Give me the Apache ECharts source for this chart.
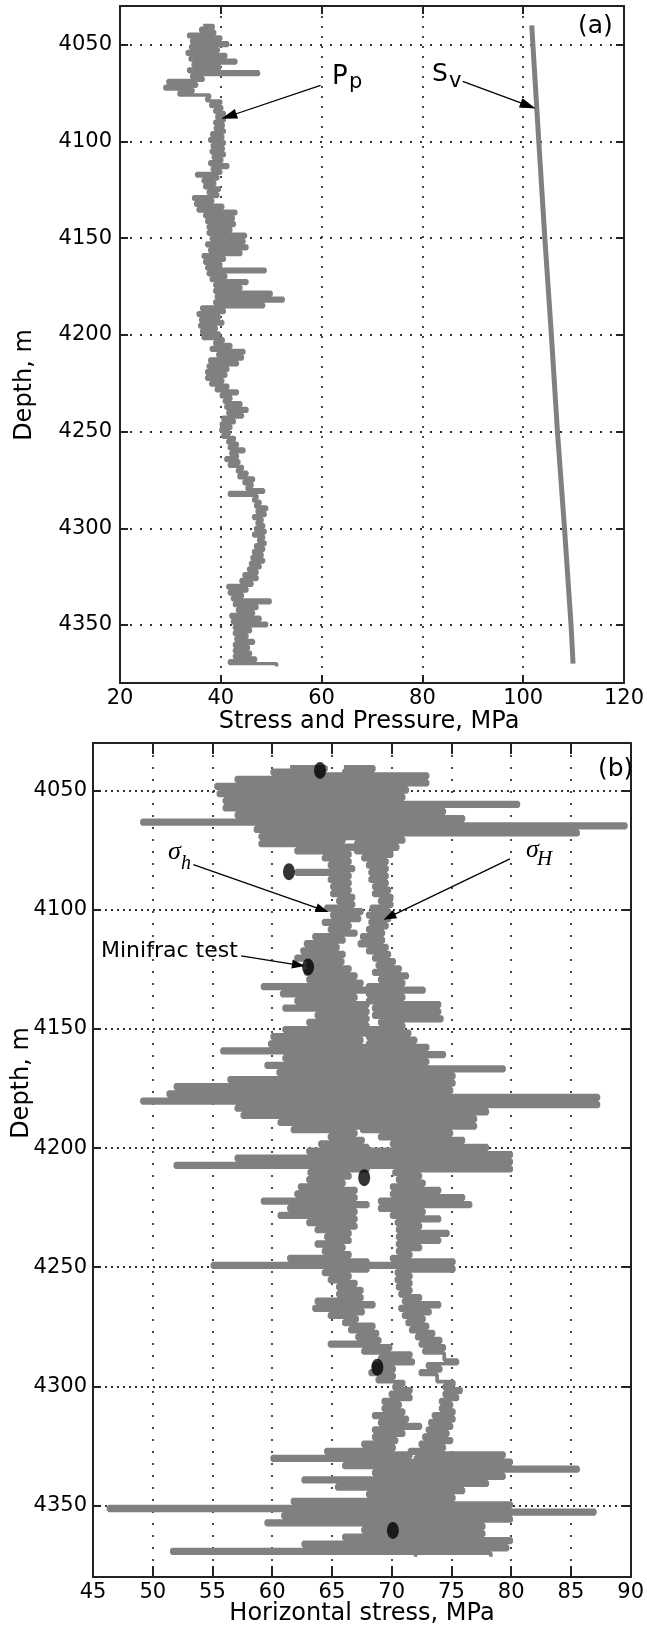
<!DOCTYPE html>
<html>
<head>
<meta charset="UTF-8">
<script src="https://cdn.jsdelivr.net/npm/echarts@6.0.0/dist/echarts.min.js"></script>
<title>Stress profiles</title>
<style>
  html, body { margin: 0; padding: 0; background: #fff; }
  #chart { width: 647px; height: 1629px; }
</style>
</head>
<body>
<div id="chart"></div>
<script>
// depth samples: every 3 m from 4040 to 4370, each log given as left/right edge of its band
var depthStart = 4040, depthStep = 3;
var depthTicks = [4050, 4100, 4150, 4200, 4250, 4300, 4350];

// (a) pore pressure Pp, MPa
var ppLow = [36.5, 36.0, 33.6, 34.2, 34.0, 33.3, 33.9, 34.5, 33.6, 34.2,
  29.5, 28.9, 31.7, 37.2, 38.0, 38.8, 39.2, 38.8, 38.9, 38.2,
  37.8, 38.3, 38.1, 38.5, 37.8, 38.3, 35.2, 36.5, 36.8, 37.5,
  34.6, 35.0, 35.5, 36.8, 37.2, 37.5, 37.5, 38.1, 37.2, 37.8,
  36.5, 36.8, 37.2, 37.5, 38.1, 38.8, 38.8, 39.1, 38.8, 36.2,
  35.5, 36.0, 35.8, 36.2, 36.5, 38.8, 38.1, 39.4, 37.8, 37.5,
  37.2, 37.2, 38.0, 39.1, 40.1, 40.7, 41.0, 41.4, 40.4, 40.1,
  40.0, 40.4, 41.4, 41.7, 42.0, 41.0, 41.7, 43.3, 43.6, 44.6,
  45.2, 41.7, 46.5, 46.9, 47.2, 46.5, 47.2, 46.9, 46.5, 47.5,
  46.9, 46.5, 46.2, 45.9, 45.5, 44.6, 44.0, 41.4, 41.7, 42.3,
  42.7, 43.3, 42.0, 42.3, 42.7, 42.7, 43.0, 42.7, 42.7, 42.7,
  41.7];
var ppHigh = [38.5, 38.8, 40.0, 41.4, 39.5, 41.0, 43.0, 39.8, 47.5, 36.5,
  35.2, 34.5, 37.8, 40.0, 40.2, 40.7, 40.7, 40.5, 40.7, 40.4,
  40.7, 40.5, 40.7, 40.2, 41.4, 40.0, 39.4, 38.8, 39.7, 39.4,
  38.4, 40.4, 43.0, 42.5, 42.7, 42.0, 44.9, 44.6, 45.2, 44.0,
  40.7, 40.0, 48.8, 41.0, 45.2, 44.0, 50.0, 52.4, 48.5, 40.7,
  39.7, 40.4, 39.1, 39.7, 40.5, 42.0, 44.6, 44.3, 43.3, 41.4,
  41.0, 40.4, 41.4, 43.3, 42.0, 44.0, 45.2, 44.3, 42.7, 42.0,
  41.7, 42.7, 43.3, 44.6, 43.3, 43.6, 44.3, 45.2, 46.5, 46.2,
  48.5, 47.2, 47.8, 49.1, 48.8, 48.2, 48.5, 48.8, 48.5, 48.8,
  48.5, 48.2, 48.5, 47.8, 47.2, 47.2, 46.2, 45.2, 44.3, 49.8,
  47.2, 46.5, 47.8, 49.1, 45.9, 45.2, 46.5, 45.5, 45.9, 46.9,
  51.1];

// (a) overburden Sv
var svDepth = [4040, 4100, 4150, 4200, 4250, 4300, 4350, 4370];
var svValue = [101.7, 103.1, 104.3, 105.6, 106.8, 108.2, 109.5, 109.9];

// (b) minimum horizontal stress sigma_h
var shLow = [61.5, 60.0, 57.0, 55.3, 55.5, 56.0, 56.0, 57.0, 49.1, 58.6,
  59.0, 59.0, 62.0, 64.3, 64.8, 62.0, 64.8, 65.0, 65.0, 65.5,
  64.5, 65.0, 64.3, 64.8, 63.5, 62.8, 62.5, 62.0, 63.0, 62.8,
  63.0, 59.2, 60.8, 62.0, 61.0, 63.7, 63.0, 61.0, 60.0, 59.8,
  55.8, 61.0, 59.5, 60.5, 56.4, 51.9, 51.3, 49.1, 57.0, 57.5,
  60.6, 61.7, 64.8, 64.0, 63.0, 57.0, 51.9, 63.1, 63.0, 62.3,
  62.0, 59.2, 61.4, 60.6, 63.0, 63.7, 64.5, 63.7, 64.3, 61.4,
  55.0, 64.3, 64.8, 65.5, 65.5, 63.7, 63.5, 64.8, 66.0, 66.5,
  67.1, 64.8, 67.6, 69.0, 68.5, 68.2, 68.8, 70.2, 69.9, 69.3,
  69.3, 68.5, 69.0, 68.5, 68.5, 67.6, 64.5, 60.0, 66.0, 68.5,
  62.6, 65.4, 68.0, 61.7, 46.3, 60.9, 59.5, 67.6, 66.0, 62.6,
  51.6];
var shHigh = [64.5, 66.0, 66.0, 67.0, 68.0, 67.0, 67.0, 67.0, 67.0, 67.0,
  66.0, 67.0, 66.5, 66.5, 66.8, 66.5, 66.5, 66.5, 66.8, 66.8,
  67.5, 67.3, 66.5, 67.0, 66.0, 65.5, 66.0, 65.9, 66.5, 67.0,
  67.5, 68.0, 67.0, 68.0, 68.0, 68.0, 68.0, 68.0, 67.5, 68.0,
  68.0, 68.0, 68.0, 68.0, 68.0, 68.0, 68.0, 68.0, 68.0, 68.0,
  68.0, 67.0, 67.6, 68.0, 68.0, 68.0, 68.0, 66.5, 66.0, 67.0,
  67.0, 68.0, 67.0, 67.0, 67.0, 66.5, 66.5, 66.0, 66.5, 68.0,
  68.0, 66.5, 67.0, 67.5, 67.5, 68.5, 67.6, 67.1, 68.5, 68.8,
  69.0, 69.9, 71.6, 71.8, 70.2, 70.2, 71.0, 71.6, 71.6, 70.7,
  71.0, 71.3, 72.4, 71.0, 70.4, 70.2, 71.6, 72.0, 72.0, 72.0,
  72.0, 72.0, 72.0, 72.0, 72.0, 72.0, 72.0, 72.0, 72.0, 72.0,
  72.0];

// (b) maximum horizontal stress sigma_H
var sHLow = [66.0, 66.0, 64.0, 64.0, 63.0, 64.0, 64.0, 64.0, 64.0, 65.0,
  66.0, 67.0, 67.0, 67.6, 68.0, 68.2, 68.2, 68.5, 68.5, 69.0,
  68.3, 68.0, 68.2, 68.0, 67.5, 67.3, 68.0, 68.5, 68.8, 68.5,
  69.0, 68.0, 68.0, 68.0, 68.5, 68.5, 69.0, 68.0, 68.0, 68.0,
  68.0, 68.0, 68.0, 68.0, 68.0, 68.0, 68.0, 68.0, 68.0, 68.0,
  68.0, 67.5, 69.0, 70.0, 68.0, 68.0, 68.0, 70.2, 70.5, 70.0,
  70.0, 69.0, 69.0, 70.0, 70.4, 70.5, 70.5, 70.5, 70.5, 70.0,
  68.0, 70.4, 70.4, 70.5, 70.7, 71.0, 70.7, 71.0, 71.3, 71.6,
  72.1, 72.4, 72.7, 74.4, 73.0, 72.4, 73.8, 74.4, 74.4, 74.1,
  74.1, 73.5, 73.2, 73.0, 72.7, 72.4, 71.5, 72.0, 72.0, 72.0,
  72.0, 72.0, 72.0, 72.0, 72.0, 72.0, 72.0, 72.0, 72.0, 72.0,
  72.0];
var sHHigh = [68.5, 73.0, 73.0, 71.3, 71.0, 80.6, 74.4, 76.0, 89.6, 85.6,
  71.0, 70.5, 70.0, 69.6, 69.6, 69.6, 69.6, 69.8, 70.0, 70.0,
  69.8, 69.8, 69.6, 69.3, 69.3, 69.6, 69.8, 70.2, 70.7, 71.3,
  71.0, 72.7, 71.0, 74.0, 74.0, 74.2, 71.0, 71.5, 72.0, 73.0,
  74.4, 73.0, 79.4, 75.2, 75.2, 75.0, 87.3, 87.3, 78.0, 77.0,
  77.0, 75.0, 76.0, 78.0, 80.0, 80.0, 80.0, 72.4, 72.7, 74.0,
  76.0, 76.6, 72.7, 74.0, 72.4, 74.7, 74.0, 72.4, 71.6, 75.2,
  75.2, 71.6, 71.6, 71.6, 72.4, 74.0, 73.2, 72.7, 73.0, 73.5,
  74.1, 74.4, 74.4, 75.5, 74.1, 73.8, 75.2, 75.8, 75.5, 75.0,
  75.2, 75.2, 75.0, 74.7, 75.0, 74.4, 79.4, 80.0, 85.6, 79.4,
  78.0, 76.0, 75.2, 80.0, 87.0, 80.0, 77.7, 77.7, 80.0, 79.7,
  78.3];

// (b) minifrac tests
var testValue = [64.0, 61.4, 63.0, 67.7, 68.8, 70.1];
var testDepth = [4041.5, 4084, 4124, 4212.4, 4292, 4360.5];

// band -> zigzag path: left edge at the sample depth, right edge half a step lower
function zig(lo, hi) {
  var out = [];
  for (var i = 0; i < lo.length; i++) {
    var d = depthStart + i * depthStep;
    out.push([lo[i], d]);
    out.push([hi[i], d + depthStep / 2]);
  }
  return out;
}
function pairs(xs, ys) {
  return xs.map(function (x, i) { return [x, ys[i]]; });
}

var FONT = 'DejaVu Sans';
var GRAY = '#808080';
var frame = { show: true, onZero: false, lineStyle: { color: '#222', width: 2 } };

function xAx(grid, pos, min, max, step, tickLen, dash) {
  var main = pos === 'bottom';
  return {
    gridIndex: grid, type: 'value', position: pos, min: min, max: max, interval: step,
    axisLine: frame,
    axisTick: { show: true, inside: true, length: tickLen, lineStyle: { color: '#222', width: 2 } },
    axisLabel: { show: main, margin: 5, fontSize: 21, fontFamily: FONT, color: '#000' },
    splitLine: { show: main, lineStyle: { color: '#333', width: 1.8, type: dash } }
  };
}
function yAx(grid, pos, tickLen, margin, dash) {
  var main = pos === 'left';
  return {
    gridIndex: grid, type: 'value', position: pos, inverse: true, min: 4030, max: 4380,
    splitNumber: 7,
    axisLine: frame,
    axisTick: { show: true, inside: true, length: tickLen, customValues: depthTicks,
      lineStyle: { color: '#222', width: 2 } },
    axisLabel: { show: main, customValues: depthTicks, margin: margin, fontSize: 21, fontFamily: FONT,
      color: '#000', formatter: function (v) { return String(v); } },
    splitLine: { show: main, lineStyle: { color: '#333', width: 1.8, type: dash } }
  };
}

function txt(x, y, s, size, opts) {
  opts = opts || {};
  return {
    type: 'text', x: x, y: y, z: 100, rotation: opts.rot || 0,
    style: {
      text: s, fill: '#000', fontSize: size, fontFamily: opts.family || FONT,
      fontStyle: opts.italic ? 'italic' : 'normal',
      textAlign: opts.align || 'left', textVerticalAlign: 'middle'
    }
  };
}

var arrowStyle = { color: '#000', width: 1.3, type: 'solid' };

var chart = echarts.init(document.getElementById('chart'), null, { renderer: 'canvas' });
chart.setOption({
  animation: false,
  textStyle: { fontFamily: FONT },
  grid: [
    { left: 120, top: 6, width: 515, height: 677 },
    { left: 93, top: 743, width: 551, height: 834 }
  ],
  xAxis: [
    xAx(0, 'bottom', 20, 120, 20, 8, [2, 8]),
    xAx(0, 'top', 20, 120, 20, 8, [2, 8]),
    xAx(1, 'bottom', 45, 90, 5, 11, [2, 10]),
    xAx(1, 'top', 45, 90, 5, 11, [2, 10])
  ],
  yAxis: [
    yAx(0, 'left', 8, 8, [2, 8]),
    yAx(0, 'right', 8, 8, [2, 8]),
    yAx(1, 'left', 8, 6, [2, 4]),
    yAx(1, 'right', 8, 6, [2, 4])
  ],
  series: [
    {
      name: 'Pp', type: 'line', xAxisIndex: 0, yAxisIndex: 0, data: zig(ppLow, ppHigh),
      step: 'end', showSymbol: false, lineStyle: { color: GRAY, width: 3.3 },
      markLine: {
        silent: true, symbol: ['none', 'triangle'], symbolSize: [10, 16],
        lineStyle: arrowStyle, label: { show: false },
        data: [
          [{ coord: [59.8, 4071] }, { coord: [41.6, 4087] }],
          [{ coord: [88.0, 4069] }, { coord: [101.0, 4081.5] }]
        ]
      }
    },
    {
      name: 'Sv', type: 'line', xAxisIndex: 0, yAxisIndex: 0, data: pairs(svValue, svDepth),
      showSymbol: false, lineStyle: { color: GRAY, width: 5 }
    },
    {
      name: 'sigma_h', type: 'line', xAxisIndex: 2, yAxisIndex: 2, data: zig(shLow, shHigh),
      step: 'end', showSymbol: false, lineStyle: { color: GRAY, width: 3.7 },
      markLine: {
        silent: true, symbol: ['none', 'triangle'], symbolSize: [9, 13],
        lineStyle: arrowStyle, label: { show: false },
        data: [
          [{ coord: [53.4, 4081] }, { coord: [64.2, 4100] }],
          [{ coord: [79.9, 4078.6] }, { coord: [69.8, 4103] }],
          [{ coord: [57.4, 4119.3] }, { coord: [62.2, 4123.2] }]
        ]
      }
    },
    {
      name: 'sigma_H', type: 'line', xAxisIndex: 2, yAxisIndex: 2, data: zig(sHLow, sHHigh),
      step: 'end', showSymbol: false, lineStyle: { color: GRAY, width: 3.7 }
    },
    {
      name: 'Minifrac test', type: 'scatter', xAxisIndex: 2, yAxisIndex: 2, z: 5,
      data: pairs(testValue, testDepth), symbol: 'circle', symbolSize: [12, 17],
      itemStyle: { color: '#000' }
    }
  ],
  graphic: [
    txt(25, 385, 'Depth, m', 24, { align: 'center', rot: Math.PI / 2 }),
    txt(369, 722, 'Stress and Pressure, MPa', 24, { align: 'center' }),
    txt(22, 1083, 'Depth, m', 24, { align: 'center', rot: Math.PI / 2 }),
    txt(362, 1614, 'Horizontal stress, MPa', 24, { align: 'center' }),
    txt(578, 26, '(a)', 25),
    txt(598, 769, '(b)', 25),
    txt(332, 77, 'P', 26),
    txt(349, 83, 'p', 21),
    txt(432, 74, 'S', 25),
    txt(449, 82, 'v', 21),
    txt(168, 852, 'σ', 26, { family: 'Liberation Serif', italic: true }),
    txt(181, 864, 'h', 20, { family: 'Liberation Serif', italic: true }),
    txt(526, 850, 'σ', 26, { family: 'Liberation Serif', italic: true }),
    txt(537, 859, 'H', 21, { family: 'Liberation Serif', italic: true }),
    txt(101, 951, 'Minifrac test', 22)
  ]
});
</script>
</body>
</html>
